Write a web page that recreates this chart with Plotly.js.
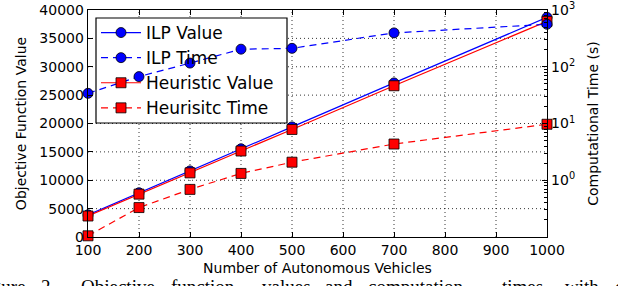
<!DOCTYPE html>
<html>
<head>
<meta charset="utf-8">
<script src="https://cdn.plot.ly/plotly-3.0.1.min.js"></script>
<style>html,body{margin:0;padding:0;background:#fff;}#chart{width:618px;height:286px;}</style>
</head>
<body>
<div id="chart"></div>
<script>
const vehicles = [100, 200, 300, 400, 500, 700, 1000];
const ilpValue = [3900, 7800, 11650, 15550, 19400, 27150, 38700];
const ilpTime = [34, 67, 116, 204, 211, 395, 560];
const heurValue = [3700, 7550, 11300, 15150, 18950, 26650, 38000];
const heurTime = [0.105, 0.33, 0.69, 1.32, 2.08, 4.35, 9.7];
const seriesNames = ['ILP Value', 'ILP Time', 'Heuristic Value', 'Heurisitc Time'];
const xTicks = [100, 200, 300, 400, 500, 600, 700, 800, 900, 1000];
const yTicks = [0, 5000, 10000, 15000, 20000, 25000, 30000, 35000, 40000];
const yTickText = ['0', '5000', '10000', '15000', '20000', '25000', '30000', '35000', '40000'];
const y2Ticks = [1, 10, 100, 1000];
const y2TickText = ['10<sup>0</sup>', '10<sup>1</sup>', '10<sup>2</sup>', '10<sup>3</sup>'];
const captionWords = ['Figure', '2.', 'Objective', 'function', 'values', 'and', 'computation', 'times', 'with', 'different'];
const captionX = [28, 39, 79, 169, 260, 323, 366, 500, 563, 613];

const font = 'DejaVu Sans, sans-serif';
const blueMarker = {symbol: 'circle', size: 10, color: '#0000ff', line: {color: '#000', width: 0.8}};
const redMarker = {symbol: 'square', size: 10, color: '#ff0000', line: {color: '#000', width: 0.8}};

const traces = [
  {x: vehicles, y: ilpValue, name: seriesNames[0], legendgroup: 'a', mode: 'lines+markers', yaxis: 'y',
   line: {color: '#0000ff', width: 1.2}, marker: blueMarker, cliponaxis: false},
  {x: vehicles, y: ilpTime, name: seriesNames[1], legendgroup: 'b', mode: 'lines+markers', yaxis: 'y2',
   line: {color: '#0000ff', width: 1.2, dash: '7px,5px'}, marker: blueMarker, cliponaxis: false},
  {x: vehicles, y: heurValue, name: seriesNames[2], legendgroup: 'c', mode: 'lines+markers', yaxis: 'y',
   line: {color: '#ff0000', width: 1.2}, marker: redMarker, cliponaxis: false},
  {x: vehicles, y: heurTime, name: seriesNames[3], legendgroup: 'd', mode: 'lines+markers', yaxis: 'y2',
   line: {color: '#ff0000', width: 1.2, dash: '7px,5px'}, marker: redMarker, cliponaxis: false}
];

const minorVals = [];
for (let d = 0.1; d < 1000; d *= 10) {
  for (let k = 2; k <= 9; k++) minorVals.push(+(d * k).toPrecision(3));
}

const L = 88, R = 547, T = 10, B = 237;
const pw = R - L, ph = B - T;
function px(pix) { return (pix - L) / pw; }
function py(pix) { return (B - pix) / ph; }

const annotations = captionWords.map((w, i) => ({
  xref: 'paper', yref: 'paper', x: px(captionX[i]), y: py(274),
  xanchor: i === 0 ? 'right' : 'left', yanchor: 'top', text: w, showarrow: false,
  font: {family: 'Liberation Serif, Times New Roman, serif', size: 19, color: '#000'}
}));

const gridLine = {color: '#000', width: 0.8, dash: '1px,3px'};
const shapes = [];
xTicks.slice(1, -1).forEach(v => shapes.push({type: 'line', layer: 'below', xref: 'x', yref: 'y domain',
  x0: v, x1: v, y0: 0, y1: 1, line: gridLine}));
yTicks.slice(1, -1).forEach(v => shapes.push({type: 'line', layer: 'below', xref: 'x domain', yref: 'y',
  x0: 0, x1: 1, y0: v, y1: v, line: gridLine}));
shapes.push({
  type: 'rect', layer: 'below', xref: 'x domain', yref: 'y domain',
  x0: px(96), x1: px(287), y0: py(123), y1: py(18),
  fillcolor: '#fff', line: {color: '#000', width: 1.2}
});

const layout = {
  width: 618, height: 286,
  margin: {l: L, r: 618 - R, t: T, b: 286 - B, pad: 0},
  paper_bgcolor: '#fff', plot_bgcolor: '#fff',
  font: {family: font, size: 14, color: '#000'},
  showlegend: true,
  legend: {x: px(96), y: py(15), xanchor: 'left', yanchor: 'top',
    bgcolor: 'rgba(0,0,0,0)', borderwidth: 0,
    font: {family: font, size: 17, color: '#000'}, itemwidth: 40, tracegroupgap: 0},
  xaxis: {range: [100, 1000], tickvals: xTicks, ticks: 'inside', ticklen: 5, tickcolor: '#000',
    showline: true, linecolor: '#000', linewidth: 1.3, mirror: 'ticks',
    showgrid: false, zeroline: false,
    tickfont: {size: 14}, title: {text: 'Number of Autonomous Vehicles', font: {size: 14}, standoff: 6}},
  yaxis: {range: [0, 40000], tickmode: 'array', tickvals: yTicks, ticktext: yTickText, ticks: 'inside', ticklen: 5, tickcolor: '#000',
    showline: true, linecolor: '#000', linewidth: 1.3, mirror: false,
    showgrid: false, zeroline: false,
    tickfont: {size: 14}, title: {text: 'Objective Function Value', font: {size: 14}, standoff: 9}},
  yaxis2: {type: 'log', range: [-1, 3], overlaying: 'y', side: 'right',
    tickmode: 'array', tickvals: y2Ticks, ticktext: y2TickText, ticks: 'inside', ticklen: 5, tickcolor: '#000',
    minor: {tickmode: 'array', tickvals: minorVals, ticks: 'inside', ticklen: 3, tickcolor: '#000', showgrid: false},
    showline: true, linecolor: '#000', linewidth: 1.3, showgrid: false, zeroline: false,
    tickfont: {size: 14}, title: {text: 'Computational Time (s)', font: {size: 14}, standoff: 14}},
  shapes: shapes,
  annotations: annotations
};

Plotly.newPlot('chart', traces, layout, {displayModeBar: false, staticPlot: true});
</script>
</body>
</html>
